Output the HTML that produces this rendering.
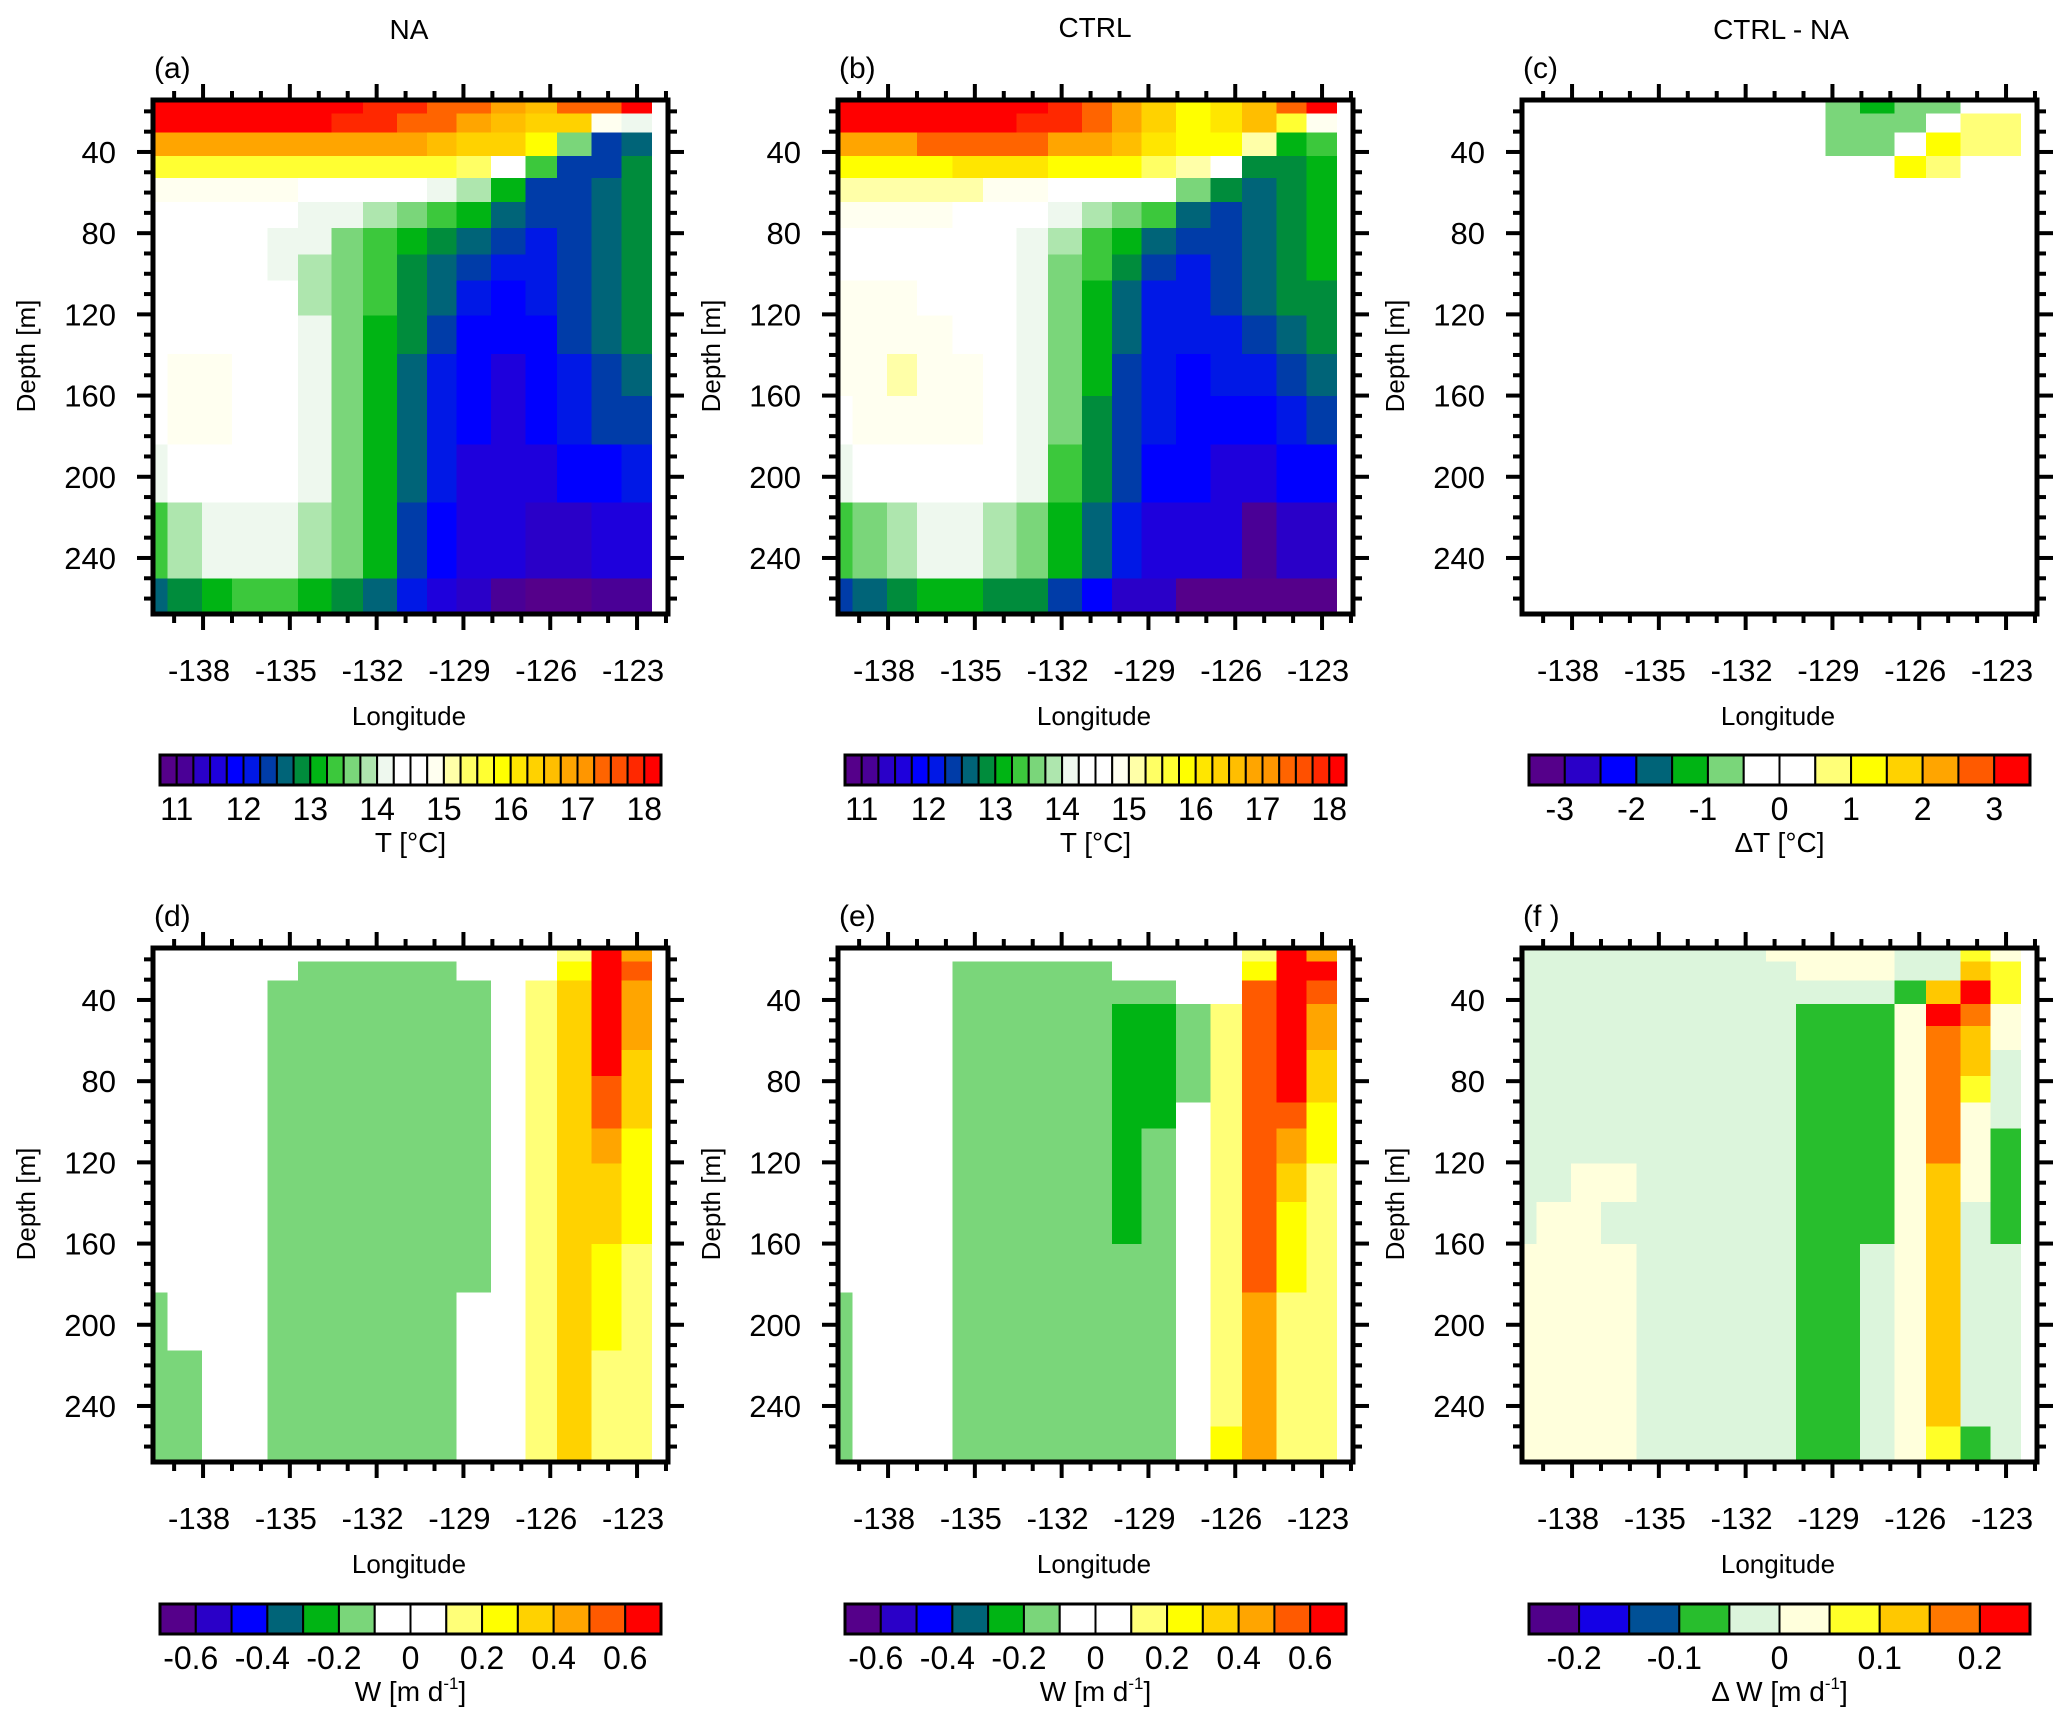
<!DOCTYPE html>
<html><head><meta charset="utf-8">
<style>
html,body{margin:0;padding:0;background:#fff;}
svg{display:block;font-family:"Liberation Sans",Arial,sans-serif;}
</style></head>
<body>
<svg id="fig" width="2067" height="1713" viewBox="0 0 2067 1713" xmlns="http://www.w3.org/2000/svg">
<rect width="2067" height="1713" fill="#fff"/>
<text x="409" y="39" font-size="28" text-anchor="middle">NA</text>
<text x="1095" y="37" font-size="28" text-anchor="middle">CTRL</text>
<text x="1781" y="39" font-size="28" text-anchor="middle">CTRL - NA</text>
</svg>
<script>
// ---- chart data ----
const lonEdges = [-139.73,-139.23,-138.03,-137.0,-135.77,-134.72,-133.56,-132.48,-131.29,-130.26,-129.24,-128.04,-126.85,-125.77,-124.58,-123.54,-122.5];
const depthEdges = [14.4,21,30.3,42,52.7,64.7,77.4,90.6,103.4,120.5,139.6,160.2,184.1,212.7,250,267.6];
const lonTicks = [-138,-135,-132,-129,-126,-123];
const depthTicks = [40,80,120,160,200,240];

const tNA = [
[18.2,18.2,18.2,18.2,18.2,18.2,18.2,17.9,17.9,17.4,17.4,16.9,16.6,17.4,17.4,18.2],
[18.2,18.2,18.2,18.2,18.2,18.2,17.9,17.9,17.4,17.4,16.9,16.6,16.4,16.4,14.9,14.1],
[16.9,16.9,16.9,16.9,16.9,16.9,16.9,16.9,16.9,16.6,16.4,16.4,15.9,13.6,12.4,12.6],
[15.6,15.6,15.6,15.6,15.6,15.6,15.6,15.6,15.6,15.6,15.4,14.4,13.4,12.4,12.4,12.9],
[14.9,14.9,14.9,14.9,14.9,14.4,14.4,14.4,14.4,14.1,13.9,13.1,12.4,12.4,12.6,12.9],
[14.4,14.4,14.4,14.4,14.4,14.1,14.1,13.9,13.6,13.4,13.1,12.6,12.4,12.4,12.6,12.9],
[14.4,14.4,14.4,14.4,14.1,14.1,13.6,13.4,13.1,12.9,12.6,12.4,12.1,12.4,12.6,12.9],
[14.4,14.4,14.4,14.4,14.1,13.9,13.6,13.4,12.9,12.6,12.4,12.1,12.1,12.4,12.6,12.9],
[14.4,14.4,14.4,14.4,14.4,13.9,13.6,13.4,12.9,12.6,12.1,11.9,12.1,12.4,12.6,12.9],
[14.4,14.4,14.4,14.4,14.4,14.1,13.6,13.1,12.9,12.4,11.9,11.9,11.9,12.4,12.6,12.9],
[14.4,14.9,14.9,14.4,14.4,14.1,13.6,13.1,12.6,12.1,11.9,11.6,11.9,12.1,12.4,12.6],
[14.4,14.9,14.9,14.4,14.4,14.1,13.6,13.1,12.6,12.1,11.9,11.6,11.9,12.1,12.4,12.4],
[14.1,14.4,14.4,14.4,14.4,14.1,13.6,13.1,12.6,12.1,11.6,11.6,11.6,11.9,11.9,12.1],
[13.4,13.9,14.1,14.1,14.1,13.9,13.6,13.1,12.4,11.9,11.6,11.6,11.4,11.4,11.6,11.6],
[12.6,12.9,13.1,13.4,13.4,13.1,12.9,12.6,12.1,11.6,11.4,11.1,10.8,10.8,11.1,11.1]];

const tCTRL = [
[18.2,18.2,18.2,18.2,18.2,18.2,18.2,17.9,17.4,16.9,16.4,15.9,16.1,16.6,17.4,18.2],
[18.2,18.2,18.2,18.2,18.2,18.2,17.9,17.9,17.4,16.9,16.4,15.9,16.1,16.6,15.6,14.9],
[16.9,16.9,16.9,17.4,17.4,17.4,17.4,16.9,16.9,16.6,16.1,15.9,15.9,15.1,13.1,13.4],
[15.9,15.9,15.9,15.9,16.1,16.1,16.1,15.9,15.9,15.9,15.4,15.1,14.4,12.9,12.9,13.1],
[15.1,15.1,15.1,15.1,15.1,14.9,14.9,14.4,14.4,14.4,14.4,13.6,12.9,12.6,12.9,13.1],
[14.9,14.9,14.9,14.9,14.4,14.4,14.4,14.1,13.9,13.6,13.4,12.6,12.4,12.6,12.9,13.1],
[14.4,14.4,14.4,14.4,14.4,14.4,14.1,13.9,13.4,13.1,12.6,12.4,12.4,12.6,12.9,13.1],
[14.4,14.4,14.4,14.4,14.4,14.4,14.1,13.6,13.4,12.9,12.4,12.1,12.4,12.6,12.9,13.1],
[14.9,14.9,14.9,14.4,14.4,14.4,14.1,13.6,13.1,12.6,12.1,12.1,12.4,12.6,12.9,12.9],
[14.9,14.9,14.9,14.9,14.4,14.4,14.1,13.6,13.1,12.6,12.1,12.1,12.1,12.4,12.6,12.9],
[14.9,14.9,15.1,14.9,14.9,14.4,14.1,13.6,13.1,12.4,12.1,11.9,12.1,12.1,12.4,12.6],
[14.4,14.9,14.9,14.9,14.9,14.4,14.1,13.6,12.9,12.4,12.1,11.9,11.9,11.9,12.1,12.4],
[14.1,14.4,14.4,14.4,14.4,14.4,14.1,13.4,12.9,12.4,11.9,11.9,11.6,11.6,11.9,11.9],
[13.4,13.6,13.9,14.1,14.1,13.9,13.6,13.1,12.6,12.1,11.6,11.6,11.6,11.1,11.4,11.4],
[12.4,12.6,12.9,13.1,13.1,12.9,12.9,12.4,11.9,11.4,11.4,10.8,10.8,10.8,10.8,10.8]];

const dT = [
[0,0,0,0,0,0,0,0,0,0,-0.75,-1.25,-0.75,-0.75,0,0],
[0,0,0,0,0,0,0,0,0,0,-0.75,-0.75,-0.75,0,0.75,0.75],
[0,0,0,0,0,0,0,0,0,0,-0.75,-0.75,0,1.25,0.75,0.75],
[0,0,0,0,0,0,0,0,0,0,0,0,1.25,0.75,0,0],
[0,0,0,0,0,0,0,0,0,0,0,0,0,0,0,0],
[0,0,0,0,0,0,0,0,0,0,0,0,0,0,0,0],
[0,0,0,0,0,0,0,0,0,0,0,0,0,0,0,0],
[0,0,0,0,0,0,0,0,0,0,0,0,0,0,0,0],
[0,0,0,0,0,0,0,0,0,0,0,0,0,0,0,0],
[0,0,0,0,0,0,0,0,0,0,0,0,0,0,0,0],
[0,0,0,0,0,0,0,0,0,0,0,0,0,0,0,0],
[0,0,0,0,0,0,0,0,0,0,0,0,0,0,0,0],
[0,0,0,0,0,0,0,0,0,0,0,0,0,0,0,0],
[0,0,0,0,0,0,0,0,0,0,0,0,0,0,0,0],
[0,0,0,0,0,0,0,0,0,0,0,0,0,0,0,0]];

const wNA = [
[0,0,0,0,0,0,0,0,0,0,0,0,0,0.15,0.65,0.45],
[0,0,0,0,0,-0.15,-0.15,-0.15,-0.15,-0.15,0,0,0,0.25,0.65,0.55],
[0,0,0,0,-0.15,-0.15,-0.15,-0.15,-0.15,-0.15,-0.15,0,0.15,0.35,0.65,0.45],
[0,0,0,0,-0.15,-0.15,-0.15,-0.15,-0.15,-0.15,-0.15,0,0.15,0.35,0.65,0.45],
[0,0,0,0,-0.15,-0.15,-0.15,-0.15,-0.15,-0.15,-0.15,0,0.15,0.35,0.65,0.45],
[0,0,0,0,-0.15,-0.15,-0.15,-0.15,-0.15,-0.15,-0.15,0,0.15,0.35,0.65,0.35],
[0,0,0,0,-0.15,-0.15,-0.15,-0.15,-0.15,-0.15,-0.15,0,0.15,0.35,0.55,0.35],
[0,0,0,0,-0.15,-0.15,-0.15,-0.15,-0.15,-0.15,-0.15,0,0.15,0.35,0.55,0.35],
[0,0,0,0,-0.15,-0.15,-0.15,-0.15,-0.15,-0.15,-0.15,0,0.15,0.35,0.45,0.25],
[0,0,0,0,-0.15,-0.15,-0.15,-0.15,-0.15,-0.15,-0.15,0,0.15,0.35,0.35,0.25],
[0,0,0,0,-0.15,-0.15,-0.15,-0.15,-0.15,-0.15,-0.15,0,0.15,0.35,0.35,0.25],
[0,0,0,0,-0.15,-0.15,-0.15,-0.15,-0.15,-0.15,-0.15,0,0.15,0.35,0.25,0.15],
[-0.15,0,0,0,-0.15,-0.15,-0.15,-0.15,-0.15,-0.15,0,0,0.15,0.35,0.25,0.15],
[-0.15,-0.15,0,0,-0.15,-0.15,-0.15,-0.15,-0.15,-0.15,0,0,0.15,0.35,0.15,0.15],
[-0.15,-0.15,0,0,-0.15,-0.15,-0.15,-0.15,-0.15,-0.15,0,0,0.15,0.35,0.15,0.15]];

const wCTRL = [
[0,0,0,0,0,0,0,0,0,0,0,0,0,0.15,0.65,0.45],
[0,0,0,0,-0.15,-0.15,-0.15,-0.15,-0.15,0,0,0,0,0.25,0.65,0.65],
[0,0,0,0,-0.15,-0.15,-0.15,-0.15,-0.15,-0.15,-0.15,0,0,0.55,0.65,0.55],
[0,0,0,0,-0.15,-0.15,-0.15,-0.15,-0.15,-0.25,-0.25,-0.15,0.15,0.55,0.65,0.45],
[0,0,0,0,-0.15,-0.15,-0.15,-0.15,-0.15,-0.25,-0.25,-0.15,0.15,0.55,0.65,0.45],
[0,0,0,0,-0.15,-0.15,-0.15,-0.15,-0.15,-0.25,-0.25,-0.15,0.15,0.55,0.65,0.35],
[0,0,0,0,-0.15,-0.15,-0.15,-0.15,-0.15,-0.25,-0.25,-0.15,0.15,0.55,0.65,0.35],
[0,0,0,0,-0.15,-0.15,-0.15,-0.15,-0.15,-0.25,-0.25,0,0.15,0.55,0.55,0.25],
[0,0,0,0,-0.15,-0.15,-0.15,-0.15,-0.15,-0.25,-0.15,0,0.15,0.55,0.45,0.25],
[0,0,0,0,-0.15,-0.15,-0.15,-0.15,-0.15,-0.25,-0.15,0,0.15,0.55,0.35,0.15],
[0,0,0,0,-0.15,-0.15,-0.15,-0.15,-0.15,-0.25,-0.15,0,0.15,0.55,0.25,0.15],
[0,0,0,0,-0.15,-0.15,-0.15,-0.15,-0.15,-0.15,-0.15,0,0.15,0.55,0.25,0.15],
[-0.15,0,0,0,-0.15,-0.15,-0.15,-0.15,-0.15,-0.15,-0.15,0,0.15,0.45,0.15,0.15],
[-0.15,0,0,0,-0.15,-0.15,-0.15,-0.15,-0.15,-0.15,-0.15,0,0.15,0.45,0.15,0.15],
[-0.15,0,0,0,-0.15,-0.15,-0.15,-0.15,-0.15,-0.15,-0.15,0,0.25,0.45,0.15,0.15]];

const dW = [
[-0.03,-0.03,-0.03,-0.03,-0.03,-0.03,-0.03,-0.03,0.03,0.03,0.03,0.03,-0.03,-0.03,0.08,0.03],
[-0.03,-0.03,-0.03,-0.03,-0.03,-0.03,-0.03,-0.03,-0.03,0.03,0.03,0.03,-0.03,-0.03,0.13,0.08],
[-0.03,-0.03,-0.03,-0.03,-0.03,-0.03,-0.03,-0.03,-0.03,-0.03,-0.03,-0.03,-0.08,0.13,0.23,0.08],
[-0.03,-0.03,-0.03,-0.03,-0.03,-0.03,-0.03,-0.03,-0.03,-0.08,-0.08,-0.08,0.03,0.23,0.18,0.03],
[-0.03,-0.03,-0.03,-0.03,-0.03,-0.03,-0.03,-0.03,-0.03,-0.08,-0.08,-0.08,0.03,0.18,0.13,0.03],
[-0.03,-0.03,-0.03,-0.03,-0.03,-0.03,-0.03,-0.03,-0.03,-0.08,-0.08,-0.08,0.03,0.18,0.13,-0.03],
[-0.03,-0.03,-0.03,-0.03,-0.03,-0.03,-0.03,-0.03,-0.03,-0.08,-0.08,-0.08,0.03,0.18,0.08,-0.03],
[-0.03,-0.03,-0.03,-0.03,-0.03,-0.03,-0.03,-0.03,-0.03,-0.08,-0.08,-0.08,0.03,0.18,0.03,-0.03],
[-0.03,-0.03,-0.03,-0.03,-0.03,-0.03,-0.03,-0.03,-0.03,-0.08,-0.08,-0.08,0.03,0.18,0.03,-0.08],
[-0.03,-0.03,0.03,0.03,-0.03,-0.03,-0.03,-0.03,-0.03,-0.08,-0.08,-0.08,0.03,0.13,0.03,-0.08],
[-0.03,0.03,0.03,-0.03,-0.03,-0.03,-0.03,-0.03,-0.03,-0.08,-0.08,-0.08,0.03,0.13,-0.03,-0.08],
[0.03,0.03,0.03,0.03,-0.03,-0.03,-0.03,-0.03,-0.03,-0.08,-0.08,-0.03,0.03,0.13,-0.03,-0.03],
[0.03,0.03,0.03,0.03,-0.03,-0.03,-0.03,-0.03,-0.03,-0.08,-0.08,-0.03,0.03,0.13,-0.03,-0.03],
[0.03,0.03,0.03,0.03,-0.03,-0.03,-0.03,-0.03,-0.03,-0.08,-0.08,-0.03,0.03,0.13,-0.03,-0.03],
[0.03,0.03,0.03,0.03,-0.03,-0.03,-0.03,-0.03,-0.03,-0.08,-0.08,-0.03,0.03,0.08,-0.08,-0.03]];

const tBarLabels = ["11","12","13","14","15","16","17","18"];
const dTBarLabels = ["-3","-2","-1","0","1","2","3"];
const wBarLabels = ["-0.6","-0.4","-0.2","0","0.2","0.4","0.6"];
const dWBarLabels = ["-0.2","-0.1","0","0.1","0.2"];

// ---- palettes / styling ----
const palT = ["#55008a","#4a0096","#2a00c8","#1e00dc","#0000ff","#0018e6","#003ca8","#006478","#008c3c","#00b414","#3cc83c","#7ad67a","#aee6ae","#eef8ee","#ffffff","#ffffff","#fffff0","#ffffa8","#ffff64","#ffff32","#ffff00","#ffe600","#ffd200","#ffbe00","#ffa500","#ff9600","#ff6400","#ff5000","#ff2800","#ff0000"];
const pal14 = ["#55008a","#2a00c8","#0000ff","#006478","#00b414","#7ad67a","#ffffff","#ffffff","#ffff78","#ffff00","#ffd200","#ffa500","#ff5a00","#ff0000"];
const palDW = ["#50008a","#1400e6","#005096","#28be2d","#dcf5dc","#ffffdc","#ffff28","#ffc800","#ff7800","#ff0000"];

const NS = "http://www.w3.org/2000/svg";
const svg = document.getElementById('fig');
function mk(tag, attrs, parent){
  const e = document.createElementNS(NS, tag);
  for (const k in attrs) e.setAttribute(k, attrs[k]);
  (parent||svg).appendChild(e);
  return e;
}
const LON0 = -139.73, LON1 = -121.93, D0 = 14.4, D1 = 267.6;
const W = 515, H = 514;

function colorIdx(v, lo, step, n){
  let k = Math.floor((v - lo)/step + 1e-9) + 1;
  return Math.max(0, Math.min(n-1, k));
}

function panel(cfg){
  const g = mk('g', {});
  
  
  const X0 = cfg.x, Y0 = cfg.y;
  const xs = lon => X0 + (lon - LON0)/(LON1 - LON0)*W;
  const ys = d => Y0 + (d - D0)/(D1 - D0)*H;
  mk('rect', {x:X0, y:Y0, width:W, height:H, fill:'#fff'}, g);
  const cells = mk('g', {'shape-rendering':'crispEdges'}, g);
  
  
  for (let r = 0; r < cfg.data.length; r++){
    for (let c = 0; c < cfg.data[r].length; c++){
      const v = cfg.data[r][c];
      const col = cfg.pal[colorIdx(v, cfg.lo, cfg.step, cfg.pal.length)];
      const x1 = xs(lonEdges[c]), x2 = xs(lonEdges[c+1]);
      const y1 = ys(depthEdges[r]), y2 = ys(depthEdges[r+1]);
      const rc = mk('rect', {x:x1.toFixed(2), y:y1.toFixed(2), width:(x2-x1+0.6).toFixed(2), height:(y2-y1+0.6).toFixed(2), fill:col}, cells);
      
      
    }
  }
  const tk = mk('g', {stroke:'#000', 'stroke-width':4}, g);
  
  
  for (let lon = -139; lon <= -122; lon++){
    const major = (lon + 138) % 3 === 0;
    const len = major ? 16 : 9;
    const x = xs(lon);
    mk('line', {x1:x, y1:Y0, x2:x, y2:Y0-len}, tk);
    mk('line', {x1:x, y1:Y0+H, x2:x, y2:Y0+H+len}, tk);
  }
  for (let d = 20; d <= 260; d += 10){
    const major = d % 40 === 0;
    const len = major ? 16 : 9;
    const y = ys(d);
    mk('line', {x1:X0, y1:y, x2:X0-len, y2:y}, tk);
    mk('line', {x1:X0+W, y1:y, x2:X0+W+len, y2:y}, tk);
  }
  mk('rect', {x:X0, y:Y0, width:W, height:H, fill:'none', stroke:'#000', 'stroke-width':5}, g);
  lonTicks.forEach(lon => {
    const t = mk('text', {x:xs(lon)-4, y:Y0+H+67, 'font-size':31, 'text-anchor':'middle'}, g);
    t.textContent = String(lon);
    
    
  });
  depthTicks.forEach(d => {
    const t = mk('text', {x:X0-37, y:ys(d)+11, 'font-size':31, 'text-anchor':'end'}, g);
    t.textContent = String(d);
    
    
  });
  const xt = mk('text', {x:X0+256, y:Y0+H+111, 'font-size':26, 'text-anchor':'middle'}, g);
  xt.textContent = 'Longitude';
  
  
  const yt = mk('text', {x:0, y:0, 'font-size':26, 'text-anchor':'middle', transform:`translate(${X0-118},${Y0+256}) rotate(-90)`}, g);
  yt.textContent = 'Depth [m]';
  
  
  const pl = mk('text', {x:X0+1, y:Y0-22, 'font-size':30}, g);
  pl.textContent = cfg.label;
  
  

  const cb = mk('g', {}, g);
  
  
  const bx = X0+7, bw = 501, by = cfg.barY, bh = 30;
  const n = cfg.pal.length, w = bw/n;
  cfg.pal.forEach((col, i) => {
    const r = mk('rect', {x:bx+i*w, y:by, width:w, height:bh, fill:col, stroke:'#000', 'stroke-width':2}, cb);
    
    
  });
  mk('rect', {x:bx, y:by, width:bw, height:bh, fill:'none', stroke:'#000', 'stroke-width':3}, cb);
  cfg.barLabels.forEach((lab, j) => {
    const k = cfg.barFirst + j*cfg.barEvery;
    const t = mk('text', {x:bx + k*w - (lab[0]==='-'?5:0), y:by+bh+35, 'font-size':32, 'text-anchor':'middle'}, cb);
    t.textContent = lab;
    
    
  });
  const ct = mk('text', {x:bx+bw/2, y:by+bh+67, 'font-size':28, 'text-anchor':'middle'}, cb);
  
  
  if (cfg.unitSup){
    ct.textContent = cfg.unit;
    const s = mk('tspan', {'font-size':17, dy:-12}, ct); s.textContent = '-1';
    const s2 = mk('tspan', {dy:12}, ct); s2.textContent = ']';
  } else ct.textContent = cfg.unit;
}

const cols = [153, 838, 1522];
panel({name:'panel-a-temp-na', x:cols[0], y:100, data:tNA, pal:palT, lo:11, step:0.25, label:'(a)', barY:755, barLabels:tBarLabels, barFirst:1, barEvery:4, unit:'T [°C]'});
panel({name:'panel-b-temp-ctrl', x:cols[1], y:100, data:tCTRL, pal:palT, lo:11, step:0.25, label:'(b)', barY:755, barLabels:tBarLabels, barFirst:1, barEvery:4, unit:'T [°C]'});
panel({name:'panel-c-temp-diff', x:cols[2], y:100, data:dT, pal:pal14, lo:-3, step:0.5, label:'(c)', barY:755, barLabels:dTBarLabels, barFirst:1, barEvery:2, unit:'ΔT [°C]'});
panel({name:'panel-d-w-na', x:cols[0], y:948, data:wNA, pal:pal14, lo:-0.6, step:0.1, label:'(d)', barY:1604, barLabels:wBarLabels, barFirst:1, barEvery:2, unit:'W [m d', unitSup:true});
panel({name:'panel-e-w-ctrl', x:cols[1], y:948, data:wCTRL, pal:pal14, lo:-0.6, step:0.1, label:'(e)', barY:1604, barLabels:wBarLabels, barFirst:1, barEvery:2, unit:'W [m d', unitSup:true});
panel({name:'panel-f-w-diff', x:cols[2], y:948, data:dW, pal:palDW, lo:-0.2, step:0.05, label:'(f )', barY:1604, barLabels:dWBarLabels, barFirst:1, barEvery:2, unit:'Δ W [m d', unitSup:true});
</script>
</body></html>
